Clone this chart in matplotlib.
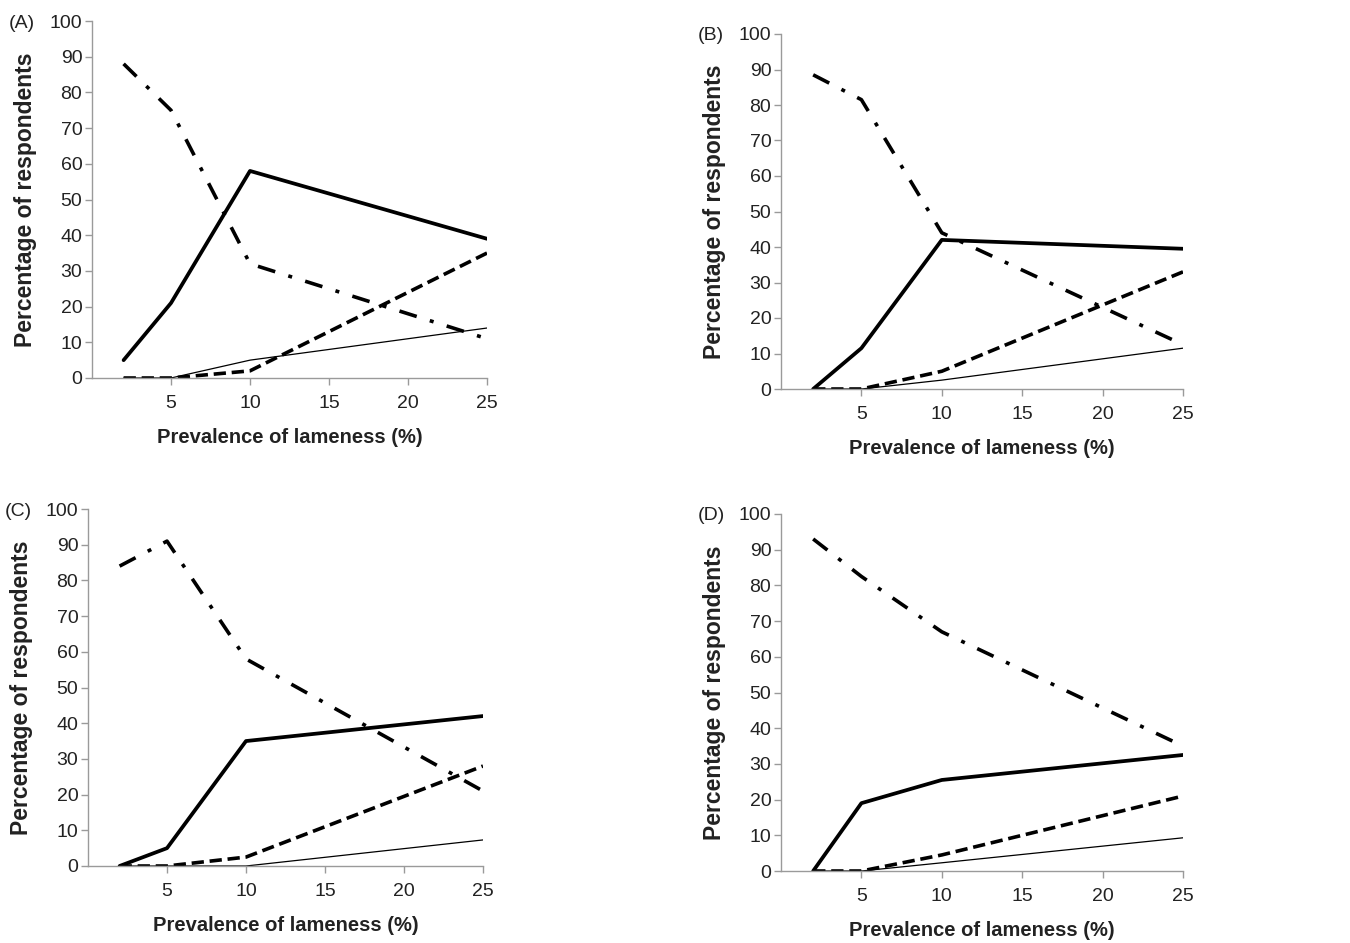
import numpy as np
import matplotlib
matplotlib.use("Agg")
import matplotlib.pyplot as plt
from matplotlib import font_manager

# prevalence levels shown to respondents
prevalence = [2, 5, 10, 25]

# (A)
a_dashdot = [88, 75, 32, 11]
a_solid = [5, 21, 58, 39]
a_dashed = [0, 0, 2, 35]
a_thin = [0, 0, 5, 14]

# (B)
b_dashdot = [88.5, 81.5, 44, 12.5]
b_solid = [0, 11.5, 42, 39.5]
b_dashed = [0, 0, 5, 33]
b_thin = [0, 0, 2.5, 11.5]

# (C)
c_dashdot = [84, 91, 58, 21]
c_solid = [0, 5, 35, 42]
c_dashed = [0, 0, 2.5, 28]
c_thin = [0, 0, 0, 7.3]

# (D)
d_dashdot = [93, 82.5, 67, 35]
d_solid = [0, 19, 25.5, 32.5]
d_dashed = [0, 0, 4.5, 21]
d_thin = [0, 0, 2.3, 9.3]

panel_letters = ["(A)", "(B)", "(C)", "(D)"]
yticks = list(range(0, 101, 10))
xticks = [5, 10, 15, 20, 25]

installed = {f.name for f in font_manager.fontManager.ttflist}
narrow = "Liberation Sans Narrow" if "Liberation Sans Narrow" in installed else "Liberation Sans"

W, H = 1350, 943
# axes boxes in pixels: left, top, right, bottom
boxes = [(92, 21, 487, 378), (781, 34, 1183, 389),
         (88, 509, 483, 866), (781, 514, 1183, 871)]

fig = plt.figure(figsize=(W / 100, H / 100), dpi=100)

panels = [(a_dashdot, a_solid, a_dashed, a_thin),
          (b_dashdot, b_solid, b_dashed, b_thin),
          (c_dashdot, c_solid, c_dashed, c_thin),
          (d_dashdot, d_solid, d_dashed, d_thin)]

for (l, t, r, b), letter, (dd, so, da, th) in zip(boxes, panel_letters, panels):
    ax = fig.add_axes([l / W, 1 - b / H, (r - l) / W, (b - t) / H])

    ax.plot(prevalence, th, color="black", lw=0.9, solid_capstyle="round")
    ax.plot(prevalence, da, color="black", lw=2.6, dashes=(3.4, 1.6))
    ax.plot(prevalence, dd, color="black", lw=2.6, dashes=(5, 3.8, 1.1, 3.8))
    ax.plot(prevalence, so, color="black", lw=2.7, solid_capstyle="round",
            solid_joinstyle="round")

    ax.set_xlim(0, 25)
    ax.set_ylim(0, 100)
    ax.set_xticks(xticks)
    ax.set_yticks(yticks)
    for s in ["top", "right"]:
        ax.spines[s].set_visible(False)
    for s in ["left", "bottom"]:
        ax.spines[s].set_color("#9a9a9a")
        ax.spines[s].set_linewidth(1.0)
    ax.tick_params(axis="both", colors="#9a9a9a", length=5, width=1.0,
                   labelcolor="#222222")
    ax.tick_params(axis="x", pad=7)
    ax.tick_params(axis="y", pad=2)
    for lab in ax.get_xticklabels() + ax.get_yticklabels():
        lab.set_fontfamily(narrow)
        lab.set_fontsize(14)

    ax.set_xlabel("Prevalence of lameness (%)", fontfamily=narrow,
                  fontweight="bold", fontsize=14.5, color="#222222", labelpad=12)
    ax.set_ylabel("Percentage of respondents", fontfamily="Liberation Sans",
                  fontweight="bold", fontsize=16.5, color="#222222", labelpad=9)

    fig.text((l - 70) / W, 1 - (t + 2) / H, letter, fontfamily=narrow,
             fontsize=14, ha="center", va="center", color="#222222")

fig.savefig("out.png", dpi=100)
